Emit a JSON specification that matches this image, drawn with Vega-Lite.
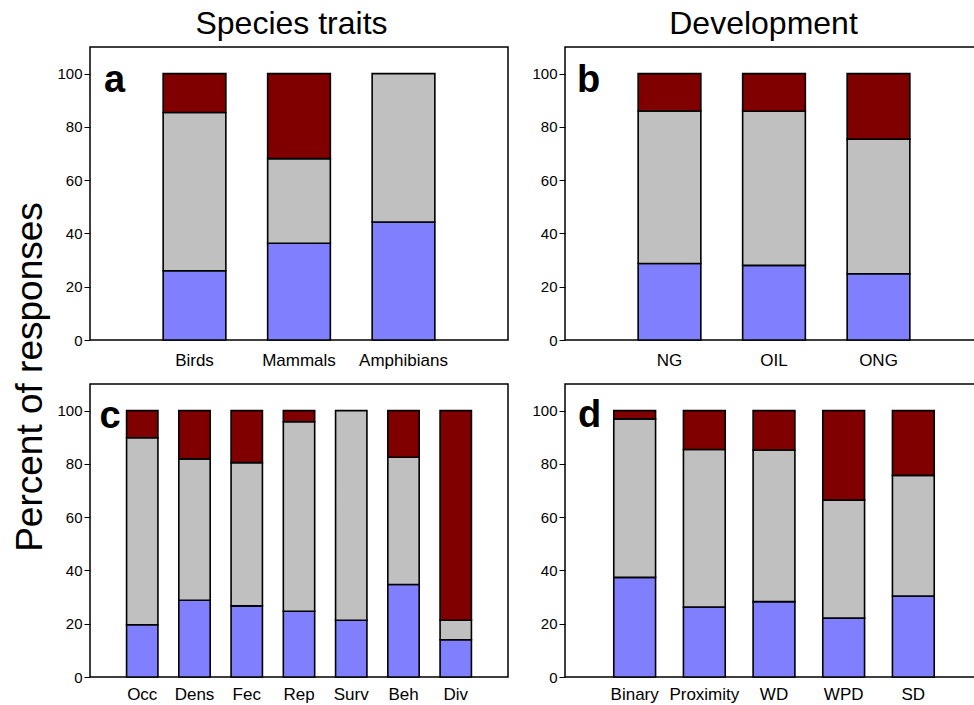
{
  "$schema": "https://vega.github.io/schema/vega-lite/v6.json",
  "padding": {"left": 10, "top": 8, "right": 0, "bottom": 0},
  "background": "white",
  "config": {
    "font": "Liberation Sans",
    "view": {"stroke": "black", "strokeWidth": 1.5},
    "axis": {"grid": false, "domain": false, "labelColor": "black", "labelFont": "Liberation Sans", "titleFont": "Liberation Sans"},
    "axisY": {"tickSize": 6, "tickColor": "black", "tickWidth": 1, "labelFontSize": 15, "labelPadding": 2, "title": null},
    "axisX": {"labelAngle": 0, "ticks": false, "labelFontSize": 17.5, "labelPadding": 12, "title": null},
    "title": {"color": "black", "font": "Liberation Sans"},
    "text": {"font": "Liberation Sans", "fontSize": 38, "fontWeight": "bold", "align": "left", "baseline": "alphabetic", "color": "black"}
  },
  "datasets": {
    "a": [
      {"cat": "Birds", "resp": "Positive", "pct": 26.0},
      {"cat": "Birds", "resp": "Neutral", "pct": 59.4},
      {"cat": "Birds", "resp": "Negative", "pct": 14.6},
      {"cat": "Mammals", "resp": "Positive", "pct": 36.3},
      {"cat": "Mammals", "resp": "Neutral", "pct": 31.8},
      {"cat": "Mammals", "resp": "Negative", "pct": 31.9},
      {"cat": "Amphibians", "resp": "Positive", "pct": 44.3},
      {"cat": "Amphibians", "resp": "Neutral", "pct": 55.7}
    ],
    "b": [
      {"cat": "NG", "resp": "Positive", "pct": 28.7},
      {"cat": "NG", "resp": "Neutral", "pct": 57.3},
      {"cat": "NG", "resp": "Negative", "pct": 14.0},
      {"cat": "OIL", "resp": "Positive", "pct": 28.0},
      {"cat": "OIL", "resp": "Neutral", "pct": 57.9},
      {"cat": "OIL", "resp": "Negative", "pct": 14.1},
      {"cat": "ONG", "resp": "Positive", "pct": 24.9},
      {"cat": "ONG", "resp": "Neutral", "pct": 50.5},
      {"cat": "ONG", "resp": "Negative", "pct": 24.6}
    ],
    "c": [
      {"cat": "Occ", "resp": "Positive", "pct": 19.6},
      {"cat": "Occ", "resp": "Neutral", "pct": 70.2},
      {"cat": "Occ", "resp": "Negative", "pct": 10.2},
      {"cat": "Dens", "resp": "Positive", "pct": 28.8},
      {"cat": "Dens", "resp": "Neutral", "pct": 53.1},
      {"cat": "Dens", "resp": "Negative", "pct": 18.1},
      {"cat": "Fec", "resp": "Positive", "pct": 26.7},
      {"cat": "Fec", "resp": "Neutral", "pct": 53.8},
      {"cat": "Fec", "resp": "Negative", "pct": 19.5},
      {"cat": "Rep", "resp": "Positive", "pct": 24.7},
      {"cat": "Rep", "resp": "Neutral", "pct": 71.1},
      {"cat": "Rep", "resp": "Negative", "pct": 4.2},
      {"cat": "Surv", "resp": "Positive", "pct": 21.3},
      {"cat": "Surv", "resp": "Neutral", "pct": 78.7},
      {"cat": "Beh", "resp": "Positive", "pct": 34.7},
      {"cat": "Beh", "resp": "Neutral", "pct": 47.8},
      {"cat": "Beh", "resp": "Negative", "pct": 17.5},
      {"cat": "Div", "resp": "Positive", "pct": 14.0},
      {"cat": "Div", "resp": "Neutral", "pct": 7.3},
      {"cat": "Div", "resp": "Negative", "pct": 78.7}
    ],
    "d": [
      {"cat": "Binary", "resp": "Positive", "pct": 37.4},
      {"cat": "Binary", "resp": "Neutral", "pct": 59.5},
      {"cat": "Binary", "resp": "Negative", "pct": 3.1},
      {"cat": "Proximity", "resp": "Positive", "pct": 26.3},
      {"cat": "Proximity", "resp": "Neutral", "pct": 59.1},
      {"cat": "Proximity", "resp": "Negative", "pct": 14.6},
      {"cat": "WD", "resp": "Positive", "pct": 28.3},
      {"cat": "WD", "resp": "Neutral", "pct": 56.9},
      {"cat": "WD", "resp": "Negative", "pct": 14.8},
      {"cat": "WPD", "resp": "Positive", "pct": 22.1},
      {"cat": "WPD", "resp": "Neutral", "pct": 44.3},
      {"cat": "WPD", "resp": "Negative", "pct": 33.6},
      {"cat": "SD", "resp": "Positive", "pct": 30.4},
      {"cat": "SD", "resp": "Neutral", "pct": 45.3},
      {"cat": "SD", "resp": "Negative", "pct": 24.3}
    ]
  },
  "spacing": 22,
  "resolve": {"scale": {"x": "independent", "y": "independent"}, "axis": {"x": "independent", "y": "independent"}},
  "hconcat": [
    {
      "title": {"text": "Species traits", "fontSize": 32, "fontWeight": "normal", "offset": 5, "anchor": "middle", "frame": "bounds", "dx": 32},
      "bounds": "flush",
      "spacing": 44,
      "resolve": {"scale": {"x": "independent", "y": "independent"}, "axis": {"x": "independent", "y": "independent"}},
      "vconcat": [
        {
          "width": 418, "height": 293,
          "layer": [
            {
              "data": {"name": "a"},
              "mark": {"type": "bar", "stroke": "black", "strokeWidth": 1.6},
              "encoding": {
                "x": {"field": "cat", "type": "nominal", "sort": null, "scale": {"paddingInner": 0.4, "paddingOuter": 0.7}, "axis": {"labelPadding": 12, "labelFontSize": 17}},
                "y": {"field": "pct", "type": "quantitative", "stack": "zero", "scale": {"domain": [0, 110], "nice": false},
                      "axis": {"values": [0, 20, 40, 60, 80, 100], "title": "Percent of responses", "titleFontSize": 37, "titleFontWeight": "normal", "titleColor": "black", "titleAngle": -90, "titleAlign": "center", "titleBaseline": "alphabetic", "titleX": -49, "titleY": 329.5}},
                "color": {"field": "resp", "type": "nominal", "sort": ["Positive", "Neutral", "Negative"], "scale": {"domain": ["Positive", "Neutral", "Negative"], "range": ["#8080FF", "#C0C0C0", "#800000"]}, "legend": null}
              }
            },
            {
              "data": {"values": [{"panel": "a"}]},
              "mark": {"type": "text"},
              "encoding": {
                "text": {"field": "panel"},
                "x": {"datum": "Birds", "type": "nominal", "bandPosition": -0.944},
                "y": {"datum": 93.2, "type": "quantitative"}
              }
            }
          ]
        },
        {
          "width": 418, "height": 293,
          "layer": [
            {
              "data": {"name": "c"},
              "mark": {"type": "bar", "stroke": "black", "strokeWidth": 1.6},
              "encoding": {
                "x": {"field": "cat", "type": "nominal", "sort": null, "scale": {"paddingInner": 0.4, "paddingOuter": 0.7}, "axis": {"labelPadding": 9, "labelFontSize": 17}},
                "y": {"field": "pct", "type": "quantitative", "stack": "zero", "scale": {"domain": [0, 110], "nice": false}, "axis": {"values": [0, 20, 40, 60, 80, 100]}},
                "color": {"field": "resp", "type": "nominal", "sort": ["Positive", "Neutral", "Negative"], "scale": {"domain": ["Positive", "Neutral", "Negative"], "range": ["#8080FF", "#C0C0C0", "#800000"]}, "legend": null}
              }
            },
            {
              "data": {"values": [{"panel": "c"}]},
              "mark": {"type": "text"},
              "encoding": {
                "text": {"field": "panel"},
                "x": {"datum": "Occ", "type": "nominal", "bandPosition": -0.864},
                "y": {"datum": 93.4, "type": "quantitative"}
              }
            }
          ]
        }
      ]
    },
    {
      "title": {"text": "Development", "fontSize": 32, "fontWeight": "normal", "offset": 5, "anchor": "middle", "frame": "bounds", "dx": 6},
      "bounds": "flush",
      "spacing": 44,
      "resolve": {"scale": {"x": "independent", "y": "independent"}, "axis": {"x": "independent", "y": "independent"}},
      "vconcat": [
        {
          "width": 418, "height": 293,
          "layer": [
            {
              "data": {"name": "b"},
              "mark": {"type": "bar", "stroke": "black", "strokeWidth": 1.6},
              "encoding": {
                "x": {"field": "cat", "type": "nominal", "sort": null, "scale": {"paddingInner": 0.4, "paddingOuter": 0.7}, "axis": {"labelPadding": 12, "labelFontSize": 17}},
                "y": {"field": "pct", "type": "quantitative", "stack": "zero", "scale": {"domain": [0, 110], "nice": false}, "axis": {"values": [0, 20, 40, 60, 80, 100]}},
                "color": {"field": "resp", "type": "nominal", "sort": ["Positive", "Neutral", "Negative"], "scale": {"domain": ["Positive", "Neutral", "Negative"], "range": ["#8080FF", "#C0C0C0", "#800000"]}, "legend": null}
              }
            },
            {
              "data": {"values": [{"panel": "b"}]},
              "mark": {"type": "text"},
              "encoding": {
                "text": {"field": "panel"},
                "x": {"datum": "NG", "type": "nominal", "bandPosition": -0.975},
                "y": {"datum": 93.2, "type": "quantitative"}
              }
            }
          ]
        },
        {
          "width": 418, "height": 293,
          "layer": [
            {
              "data": {"name": "d"},
              "mark": {"type": "bar", "stroke": "black", "strokeWidth": 1.6},
              "encoding": {
                "x": {"field": "cat", "type": "nominal", "sort": null, "scale": {"paddingInner": 0.4, "paddingOuter": 0.7}, "axis": {"labelPadding": 9, "labelFontSize": 17}},
                "y": {"field": "pct", "type": "quantitative", "stack": "zero", "scale": {"domain": [0, 110], "nice": false}, "axis": {"values": [0, 20, 40, 60, 80, 100]}},
                "color": {"field": "resp", "type": "nominal", "sort": ["Positive", "Neutral", "Negative"], "scale": {"domain": ["Positive", "Neutral", "Negative"], "range": ["#8080FF", "#C0C0C0", "#800000"]}, "legend": null}
              }
            },
            {
              "data": {"values": [{"panel": "d"}]},
              "mark": {"type": "text"},
              "encoding": {
                "text": {"field": "panel"},
                "x": {"datum": "Binary", "type": "nominal", "bandPosition": -0.856},
                "y": {"datum": 93.9, "type": "quantitative"}
              }
            }
          ]
        }
      ]
    }
  ]
}
